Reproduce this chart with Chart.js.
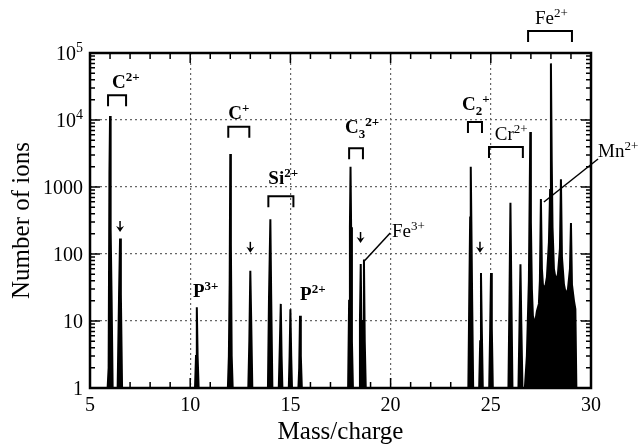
<!DOCTYPE html>
<html>
<head>
<meta charset="utf-8">
<script src="https://cdn.jsdelivr.net/npm/chart.js@4"></script>
<style>
  html, body { margin: 0; padding: 0; background: #fff; }
</style>
</head>
<body>
<canvas id="spectrum" width="639" height="447"></canvas>
<script>
// Spectrum data (mass/charge, number of ions), one row per peak
const mass = [
  5.88, 5.93, 5.97, 6.0, 6.03, 6.08, 6.13,
  6.38, 6.45, 6.5, 6.54, 6.6,
  10.24, 10.29, 10.33, 10.37, 10.42,
  11.88, 11.93, 11.97, 12.0, 12.03, 12.07, 12.12,
  12.9, 12.95, 13.0, 13.04, 13.1,
  13.88, 13.93, 13.97, 14.0, 14.04, 14.1,
  14.42, 14.47, 14.52, 14.56, 14.6,
  14.92, 14.96, 15.0, 15.04, 15.08,
  15.4, 15.44, 15.48, 15.52, 15.57,
  17.88, 17.93, 17.97, 18.0, 18.03, 18.07, 18.12,
  18.43, 18.47, 18.51, 18.55, 18.58,
  18.59, 18.63, 18.67, 18.71, 18.76,
  23.88, 23.93, 23.97, 24.0, 24.03, 24.07, 24.12,
  24.42, 24.47, 24.51, 24.55, 24.6,
  24.92, 24.97, 25.01, 25.05, 25.1,
  25.88, 25.93, 25.98, 26.02, 26.08,
  26.38, 26.43, 26.48, 26.52, 26.58,
  26.7, 26.8, 26.9, 26.97, 27.0, 27.05, 27.1, 27.2, 27.3, 27.4,
  27.45, 27.5, 27.55, 27.6, 27.7, 27.8, 27.9,
  27.96, 28.0, 28.04, 28.08, 28.15, 28.25, 28.35,
  28.45, 28.5, 28.55, 28.65, 28.75, 28.85,
  28.95, 29.0, 29.05, 29.15, 29.22, 29.27
];
const ions = [
  1, 2, 1600, 11500, 230, 20, 1,
  1, 25, 170, 25, 1,
  1, 3, 16, 3, 1,
  1, 3, 38, 3100, 137, 3, 1,
  1, 5, 56, 12, 1,
  1, 20, 100, 330, 25, 1,
  1, 4, 18, 3, 1,
  1, 3, 15, 3, 1,
  1, 2, 12, 3, 1,
  1, 20, 250, 2000, 250, 5, 1,
  1, 10, 71, 5, 1,
  1, 10, 83, 5, 1,
  1, 30, 350, 2000, 300, 20, 1,
  1, 5, 52, 8, 1,
  1, 8, 52, 8, 1,
  1, 20, 580, 40, 1,
  1, 8, 70, 10, 1,
  1, 3, 40, 6600, 300, 30, 12, 9, 14, 18,
  40, 660, 60, 35, 30, 45, 150,
  900, 70000, 2500, 250, 60, 40, 50,
  120, 1300, 90, 35, 25, 30,
  60, 290, 35, 20, 15, 1
];

// Axis ticks
const xTicks = [5, 10, 15, 20, 25, 30];
const yTicks = [1, 10, 100, 1000, 1e4, 1e5];
const yTickLabels = [[['1', 0]], [['10', 0]], [['100', 0]], [['1000', 0]], [['10', 0], ['4', 1]], [['10', 0], ['5', 1]]];

// Annotations (anchored in data units)
const ionLabels = [
  { parts: [['C', 0], ['2+', 1]], m: 6.1, n: 30000, bold: true },
  { parts: [['P', 0], ['3+', 1]], m: 10.14, n: 22.8, bold: true },
  { parts: [['C', 0], ['+', 1]], m: 11.9, n: 10350, bold: true },
  { parts: [['Si', 0], ['2+', 1]], m: 13.9, n: 1110, bold: true },
  { parts: [['P', 0], ['2+', 1]], m: 15.48, n: 20.6, bold: true },
  { parts: [['C', 0], ['3', -1], ['2+', 1]], m: 17.73, n: 6400, bold: true },
  { parts: [['Fe', 0], ['3+', 1]], m: 20.07, n: 179, bold: false },
  { parts: [['C', 0], ['2', -1], ['+', 1]], m: 23.56, n: 14100, bold: true },
  { parts: [['Cr', 0], ['2+', 1]], m: 25.2, n: 5040, bold: false },
  { parts: [['Fe', 0], ['2+', 1]], m: 27.2, n: 271000, bold: false },
  { parts: [['Mn', 0], ['2+', 1]], m: 30.35, n: 2800, bold: false }
];
const brackets = [
  { from: 5.9, to: 6.8, n: 23500 },
  { from: 11.9, to: 12.95, n: 7900 },
  { from: 13.9, to: 15.15, n: 730 },
  { from: 17.93, to: 18.62, n: 3800 },
  { from: 23.86, to: 24.56, n: 9300 },
  { from: 24.91, to: 26.6, n: 3950 },
  { from: 26.86, to: 29.05, n: 213000 }
];
const arrows = [
  { m: 6.5, n: 213 },
  { m: 13.0, n: 104 },
  { m: 18.5, n: 146 },
  { m: 24.46, n: 104 }
];
const leaders = [
  { m1: 18.7, n1: 79, m2: 19.98, n2: 206 },
  { m1: 27.65, n1: 597, m2: 30.35, n2: 2620 }
];

const SERIF = '"Liberation Serif", "Times New Roman", serif';
const GRID = '#666';

function richText(ctx, parts, x, y, size, weight, align) {
  const fontFor = mode => `${weight} ${mode ? Math.round(size * 0.7) : size}px ${SERIF}`;
  const widths = parts.map(([t, mode]) => { ctx.font = fontFor(mode); return ctx.measureText(t).width; });
  const total = widths.reduce((a, b) => a + b, 0);
  let cx = align === 'right' ? x - total : x;
  ctx.textAlign = 'left';
  ctx.textBaseline = 'alphabetic';
  parts.forEach(([t, mode], i) => {
    ctx.font = fontFor(mode);
    const dy = mode === 1 ? -size * 0.38 : mode === -1 ? size * 0.25 : 0;
    ctx.fillText(t, cx, y + dy);
    cx += widths[i];
  });
}

const decor = {
  id: 'decor',
  afterDatasetsDraw(chart) {
    const { ctx, chartArea: a, scales: { x, y } } = chart;
    ctx.save();
    ctx.strokeStyle = '#000';
    ctx.fillStyle = '#000';

    // inward ticks on all four sides
    ctx.lineWidth = 1.5;
    ctx.beginPath();
    for (let v = 5; v <= 30; v++) {
      const px = x.getPixelForValue(v);
      const len = v % 5 === 0 ? 10 : 6;
      ctx.moveTo(px, a.bottom); ctx.lineTo(px, a.bottom - len);
      ctx.moveTo(px, a.top); ctx.lineTo(px, a.top + len);
    }
    for (let d = 1; d <= 1e5; d *= 10) {
      for (let k = 1; k < 10; k++) {
        if (d * k > 1e5) break;
        const py = y.getPixelForValue(d * k);
        const len = k === 1 ? 10 : 5;
        ctx.moveTo(a.left, py); ctx.lineTo(a.left + len, py);
        ctx.moveTo(a.right, py); ctx.lineTo(a.right - len, py);
      }
    }
    ctx.stroke();

    // frame
    ctx.lineWidth = 2.5;
    ctx.strokeRect(a.left, a.top, a.right - a.left, a.bottom - a.top);

    // y tick labels with superscripts
    yTicks.forEach((v, i) => {
      const py = y.getPixelForValue(v);
      richText(ctx, yTickLabels[i], a.left - 7, py + 7, 20, 'normal', 'right');
    });

    // brackets
    ctx.lineWidth = 2;
    brackets.forEach(b => {
      const x1 = x.getPixelForValue(b.from), x2 = x.getPixelForValue(b.to);
      const py = y.getPixelForValue(b.n);
      ctx.beginPath();
      ctx.moveTo(x1, py + 11); ctx.lineTo(x1, py); ctx.lineTo(x2, py); ctx.lineTo(x2, py + 11);
      ctx.stroke();
    });

    // down arrows
    arrows.forEach(ar => {
      const px = x.getPixelForValue(ar.m), py = y.getPixelForValue(ar.n);
      ctx.lineWidth = 1.5;
      ctx.beginPath();
      ctx.moveTo(px, py - 11); ctx.lineTo(px, py - 3);
      ctx.stroke();
      ctx.beginPath();
      ctx.moveTo(px - 4, py - 6); ctx.lineTo(px, py); ctx.lineTo(px + 4, py - 6); ctx.lineTo(px, py - 4);
      ctx.closePath();
      ctx.fill();
    });

    // leader lines
    ctx.lineWidth = 1.5;
    leaders.forEach(l => {
      ctx.beginPath();
      ctx.moveTo(x.getPixelForValue(l.m1), y.getPixelForValue(l.n1));
      ctx.lineTo(x.getPixelForValue(l.m2), y.getPixelForValue(l.n2));
      ctx.stroke();
    });

    // ion labels
    ionLabels.forEach(lb => {
      richText(ctx, lb.parts, x.getPixelForValue(lb.m), y.getPixelForValue(lb.n), 19, lb.bold ? 'bold' : 'normal', 'left');
    });
    ctx.restore();
  }
};

new Chart(document.getElementById('spectrum'), {
  type: 'line',
  data: {
    datasets: [{
      data: mass.map((m, i) => ({ x: m, y: ions[i] })),
      borderColor: '#000',
      backgroundColor: '#000',
      borderWidth: 2,
      fill: 'start',
      pointRadius: 0,
      tension: 0
    }]
  },
  options: {
    responsive: false,
    animation: false,
    layout: { padding: { top: 53, right: 48, left: 0, bottom: 0 } },
    plugins: { legend: { display: false }, tooltip: { enabled: false } },
    scales: {
      x: {
        type: 'linear',
        min: 5,
        max: 30,
        ticks: {
          stepSize: 1,
          autoSkip: false,
          maxRotation: 0,
          padding: 6,
          color: '#000',
          font: { family: SERIF, size: 20 },
          callback: v => xTicks.includes(v) ? String(v) : ''
        },
        grid: {
          drawTicks: false,
          lineWidth: 1.2,
          color: c => (c.tick && c.tick.value % 5 === 0 && c.tick.value > 5 && c.tick.value < 30) ? GRID : 'rgba(0,0,0,0)'
        },
        border: { display: false, dash: [2, 3] },
        title: { display: true, text: 'Mass/charge', color: '#000', font: { family: SERIF, size: 25 }, padding: 0 },
        afterFit: s => { s.height = 59; }
      },
      y: {
        type: 'logarithmic',
        min: 1,
        max: 1e5,
        afterBuildTicks: s => { s.ticks = yTicks.map(v => ({ value: v })); },
        ticks: { display: false },
        grid: {
          drawTicks: false,
          lineWidth: 1.2,
          color: c => (c.tick && c.tick.value > 1 && c.tick.value < 1e5) ? GRID : 'rgba(0,0,0,0)'
        },
        border: { display: false, dash: [2, 3] },
        title: { display: true, text: 'Number of ions', color: '#000', font: { family: SERIF, size: 25 }, padding: { top: 7, bottom: 0 } },
        afterFit: s => { s.width = 90; }
      }
    }
  },
  plugins: [decor]
});
</script>
</body>
</html>
